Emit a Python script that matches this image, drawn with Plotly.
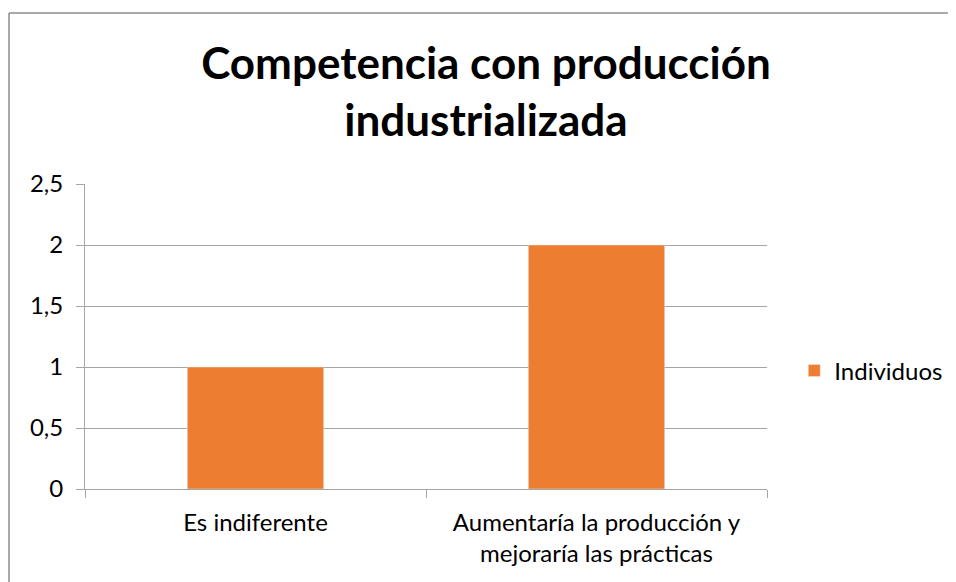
import plotly.graph_objects as go

# datos
categorias = ["Es indiferente", "Aumentaría la producción y<br>mejoraría las prácticas"]
individuos = [1, 2]
ticks_y = [0, 0.5, 1, 1.5, 2, 2.5]

fig = go.Figure(go.Bar(
    x=categorias,
    y=individuos,
    name="Individuos",
    marker_color="#ED7D31",
    showlegend=True,
))

# la página añade 8px de margen al body, así que todo se desplaza 8px
fig.update_layout(
    width=956,
    height=582,
    paper_bgcolor="white",
    plot_bgcolor="white",
    separators=",.",
    font=dict(family="Lato", size=24, color="#000000"),
    title=dict(
        text="<b>Competencia con producción<br>industrializada</b>",
        font=dict(family="Lato", size=44, color="#000000"),
        x=0.5,
        xanchor="center",
        y=1 - 71 / 582,
        yanchor="middle",
    ),
    margin=dict(l=77, r=197, t=176, b=101),
    bargap=0.6,
    showlegend=True,
    legend=dict(
        x=1.04, y=0.387, xanchor="left", yanchor="middle",
        font=dict(size=24), itemwidth=30, bgcolor="rgba(0,0,0,0)",
    ),
    shapes=[
        dict(type="line", xref="paper", yref="paper", x0=-0.1114, x1=-0.1114, y0=-0.5, y1=1.5607,
             line=dict(color="#8c8c8c", width=1.5)),
        dict(type="line", xref="paper", yref="paper", x0=-0.1114, x1=1.5, y0=1.5607, y1=1.5607,
             line=dict(color="#8c8c8c", width=1.5)),
    ],
)

fig.update_yaxes(
    range=[0, 2.5],
    tickvals=ticks_y,
    showgrid=True, gridcolor="#a6a6a6", gridwidth=1,
    showline=True, linecolor="#a6a6a6", linewidth=1,
    ticks="outside", ticklen=8, tickcolor="#a6a6a6",
    zeroline=False,
    ticklabelstandoff=8,
)
fig.update_xaxes(
    showline=True, linecolor="#a6a6a6", linewidth=1,
    ticks="outside", ticklen=8, tickcolor="#a6a6a6",
    tickson="boundaries",
    ticklabelstandoff=12,
)

fig.write_html("out.html")
